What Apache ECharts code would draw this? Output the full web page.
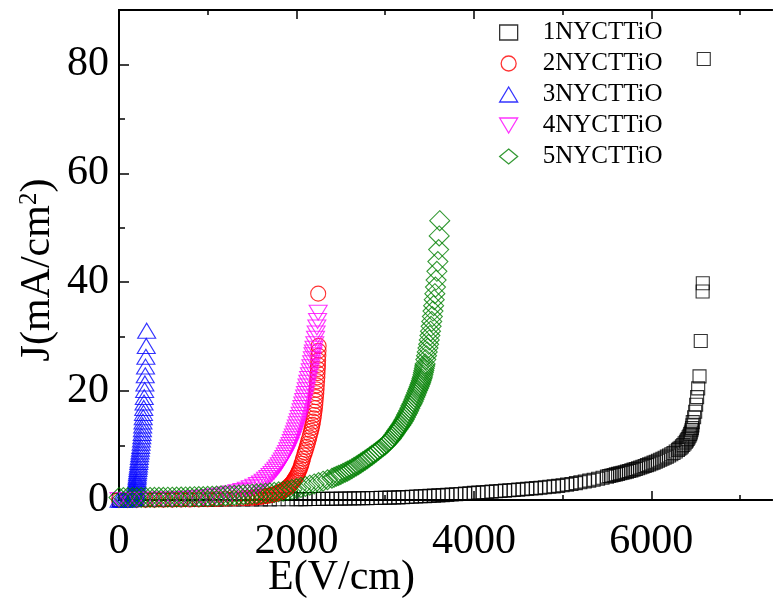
<!DOCTYPE html>
<html>
<head>
<meta charset="utf-8">
<script src="https://cdn.jsdelivr.net/npm/echarts@6/dist/echarts.min.js"></script>
<style>
    html, body { margin: 0; padding: 0; background: #fff; }
    #chart { width: 773px; height: 599px; }
</style>
</head>
<body>
<div id="chart"></div>
<script>
const seriesNames = ['1NYCTTiO', '2NYCTTiO', '3NYCTTiO', '4NYCTTiO', '5NYCTTiO'];

// 1NYCTTiO
const e1 = [0, 100, 200, 300, 400, 500, 600, 700, 800, 900, 1000, 1100, 1200, 1300, 1400, 1500, 1600, 1700, 1800, 1900,
    2000, 2050, 2100, 2150, 2200, 2250, 2300, 2350, 2400, 2450, 2500, 2550, 2600, 2650, 2700, 2750, 2800, 2850, 2900, 2950,
    3000, 3050, 3100, 3150, 3200, 3250, 3300, 3350, 3400, 3450, 3500, 3550, 3600, 3650, 3700, 3750, 3800, 3850, 3900, 3950,
    4000, 4050, 4100, 4150, 4200, 4250, 4300, 4350, 4400, 4450, 4500, 4550, 4600, 4650, 4700, 4750, 4800, 4850, 4900, 4950,
    5000, 5050, 5100, 5150, 5200, 5250, 5300, 5350, 5400, 5450, 5500, 5525, 5550, 5575, 5600, 5625, 5650, 5675, 5700, 5725,
    5750, 5775, 5800, 5825, 5850, 5875, 5900, 5925, 5950, 5975, 6000, 6025, 6050, 6075, 6100, 6125, 6150, 6175, 6200, 6225,
    6250, 6275, 6300, 6315, 6330, 6345, 6360, 6375, 6390, 6400, 6410, 6420, 6430, 6438, 6445, 6452, 6458, 6463, 6467, 6482,
    6494, 6505, 6516, 6528, 6543, 6557, 6578, 6580, 6591];
const j1 = [0, 0.01, 0.01, 0.02, 0.02, 0.03, 0.03, 0.04, 0.05, 0.05, 0.06, 0.07, 0.08, 0.09, 0.1, 0.1, 0.11, 0.12, 0.13, 0.14,
    0.15, 0.155, 0.16, 0.17, 0.18, 0.19, 0.2, 0.21, 0.22, 0.235, 0.25, 0.265, 0.28, 0.295, 0.31, 0.325, 0.34, 0.355, 0.37, 0.385,
    0.4, 0.43, 0.46, 0.49, 0.52, 0.56, 0.6, 0.64, 0.68, 0.72, 0.76, 0.8, 0.85, 0.9, 0.95, 1.0, 1.05, 1.11, 1.17, 1.23,
    1.3, 1.36, 1.42, 1.48, 1.54, 1.6, 1.66, 1.72, 1.78, 1.84, 1.9, 1.97, 2.04, 2.11, 2.18, 2.26, 2.34, 2.42, 2.5, 2.6,
    2.7, 2.82, 2.95, 3.1, 3.25, 3.4, 3.55, 3.72, 3.9, 4.1, 4.3, 4.4, 4.5, 4.6, 4.7, 4.8, 4.9, 5.0, 5.1, 5.21,
    5.33, 5.45, 5.57, 5.7, 5.83, 5.96, 6.1, 6.25, 6.4, 6.55, 6.7, 6.86, 7.03, 7.2, 7.38, 7.57, 7.77, 7.97, 8.18, 8.4,
    8.63, 8.9, 9.2, 9.4, 9.6, 9.85, 10.1, 10.4, 10.7, 10.95, 11.2, 11.5, 11.8, 12.1, 12.4, 12.8, 13.2, 13.7, 14.3, 15.2,
    16.2, 17.5, 18.9, 20.5, 22.7, 29.2, 38.3, 39.8, 81.0];

// 2NYCTTiO
const e2 = [0, 100, 200, 300, 400, 500, 600, 700, 800, 900, 1000, 1100, 1200, 1300, 1400, 1450, 1500, 1525, 1550, 1575,
    1600, 1625, 1650, 1675, 1700, 1720, 1740, 1760, 1780, 1795, 1810, 1825, 1840, 1855, 1870, 1885, 1900, 1913, 1925, 1938,
    1950, 1960, 1970, 1980, 1990, 2000, 2010, 2020, 2030, 2040, 2050, 2058, 2066, 2075, 2085, 2095, 2105, 2115, 2125, 2135,
    2145, 2155, 2165, 2173, 2180, 2187, 2193, 2198, 2203, 2208, 2212, 2216, 2220, 2224, 2227, 2230, 2233, 2236, 2238, 2241,
    2243, 2245, 2247, 2249, 2250, 2245];
const j2 = [0, 0.01, 0.02, 0.03, 0.04, 0.05, 0.06, 0.08, 0.1, 0.12, 0.15, 0.18, 0.22, 0.27, 0.33, 0.37, 0.41, 0.45, 0.5, 0.55,
    0.6, 0.66, 0.72, 0.79, 0.86, 0.93, 1.0, 1.1, 1.2, 1.3, 1.4, 1.52, 1.65, 1.8, 1.95, 2.12, 2.3, 2.5, 2.7, 2.92,
    3.15, 3.37, 3.6, 3.85, 4.1, 4.4, 4.7, 5.05, 5.4, 5.8, 6.2, 6.65, 7.1, 7.6, 8.2, 8.7, 9.2, 9.75, 10.3, 10.9,
    11.5, 12.1, 12.7, 13.25, 13.8, 14.4, 15.0, 15.6, 16.2, 16.85, 17.5, 18.2, 18.9, 19.6, 20.3, 21.05, 21.8, 22.55, 23.3, 24.05,
    24.8, 25.65, 26.5, 27.4, 28.3, 37.9];

// 3NYCTTiO
const e3 = [0, 20, 40, 60, 80, 100, 120, 140, 155, 165, 170, 175, 178, 181, 184, 186, 188, 190, 192, 194,
    196, 198, 200, 202, 204, 206, 208, 211, 214, 217, 220, 223, 226, 229, 233, 237, 241, 245, 249, 253,
    257, 261, 264, 267, 270, 273, 276, 279, 282, 285, 289, 292, 296, 299, 303, 307, 312];
const j3 = [0.05, 0.06, 0.07, 0.08, 0.1, 0.12, 0.15, 0.2, 0.3, 0.4, 0.5, 0.7, 0.9, 1.1, 1.3, 1.5, 1.8, 2.0, 2.3, 2.6,
    2.9, 3.2, 3.5, 3.8, 4.2, 4.5, 4.9, 5.3, 5.7, 6.1, 6.5, 7.0, 7.4, 7.9, 8.4, 8.9, 9.4, 9.9, 10.5, 11.1,
    11.7, 12.3, 13.0, 13.7, 14.4, 15.2, 16.0, 16.9, 17.9, 18.9, 20.2, 21.4, 22.9, 24.5, 26.3, 28.3, 31.1];

// 4NYCTTiO
const e4 = [0, 100, 200, 300, 400, 500, 600, 700, 780, 870, 950, 1020, 1090, 1150, 1210, 1270, 1330, 1385, 1435, 1480,
    1520, 1560, 1595, 1625, 1652, 1678, 1702, 1725, 1747, 1768, 1788, 1807, 1825, 1842, 1858, 1873, 1888, 1902, 1915, 1928,
    1941, 1953, 1965, 1977, 1988, 1999, 2010, 2021, 2032, 2042, 2052, 2062, 2072, 2082, 2092, 2101, 2110, 2119, 2128, 2137,
    2146, 2155, 2163, 2171, 2179, 2186, 2191, 2198, 2207, 2215, 2222, 2230, 2238, 2245];
const j4 = [0, 0.02, 0.04, 0.06, 0.08, 0.1, 0.13, 0.18, 0.25, 0.35, 0.45, 0.55, 0.68, 0.82, 1.0, 1.2, 1.42, 1.65, 1.9, 2.17,
    2.45, 2.75, 3.05, 3.37, 3.7, 4.05, 4.4, 4.78, 5.17, 5.57, 5.98, 6.4, 6.83, 7.27, 7.72, 8.18, 8.65, 9.13, 9.62, 10.12,
    10.63, 11.15, 11.68, 12.22, 12.77, 13.33, 13.9, 14.48, 15.07, 15.67, 16.28, 16.9, 17.53, 18.17, 18.82, 19.48, 20.15, 20.83, 21.52, 22.22,
    22.93, 23.65, 24.38, 25.12, 25.87, 26.6, 27.1, 27.8, 28.6, 29.6, 30.6, 31.7, 32.9, 34.4];

// 5NYCTTiO
const e5 = [0, 50, 100, 150, 200, 250, 300, 350, 400, 450, 500, 550, 600, 650, 700, 750, 800, 850, 900, 950,
    1000, 1050, 1100, 1150, 1200, 1250, 1300, 1350, 1400, 1450, 1500, 1550, 1600, 1650, 1700, 1750, 1800, 1850, 1900, 1950,
    2000, 2050, 2100, 2150, 2200, 2250, 2300, 2350, 2400, 2425, 2450, 2475, 2500, 2525, 2550, 2575, 2600, 2625, 2650, 2675,
    2700, 2725, 2750, 2775, 2800, 2825, 2850, 2875, 2900, 2925, 2950, 2975, 3000, 3018, 3035, 3052, 3070, 3085, 3100, 3115,
    3130, 3145, 3160, 3175, 3190, 3203, 3215, 3228, 3240, 3253, 3265, 3278, 3290, 3303, 3315, 3325, 3335, 3345, 3355, 3365,
    3375, 3384, 3392, 3400, 3407, 3414, 3420, 3426, 3431, 3436, 3441, 3446, 3450, 3458, 3466, 3474, 3482, 3490, 3497, 3504,
    3511, 3518, 3525, 3532, 3539, 3546, 3553, 3560, 3567, 3574, 3583, 3594, 3603, 3609, 3615];
const j5 = [0.45, 0.45, 0.45, 0.46, 0.46, 0.46, 0.47, 0.47, 0.48, 0.49, 0.5, 0.51, 0.52, 0.53, 0.55, 0.56, 0.58, 0.6, 0.62, 0.64,
    0.67, 0.7, 0.73, 0.76, 0.8, 0.84, 0.88, 0.92, 0.97, 1.02, 1.07, 1.12, 1.18, 1.25, 1.32, 1.4, 1.5, 1.62, 1.75, 1.92,
    2.1, 2.3, 2.5, 2.72, 2.95, 3.2, 3.45, 3.72, 4.0, 4.17, 4.35, 4.52, 4.7, 4.9, 5.1, 5.3, 5.5, 5.75, 6.0, 6.25,
    6.5, 6.77, 7.05, 7.32, 7.6, 7.9, 8.2, 8.5, 8.8, 9.12, 9.45, 9.77, 10.1, 10.4, 10.7, 11.0, 11.3, 11.65, 12.0, 12.35,
    12.7, 13.05, 13.4, 13.75, 14.1, 14.45, 14.8, 15.2, 15.6, 16.0, 16.4, 16.85, 17.3, 17.7, 18.1, 18.5, 18.9, 19.3, 19.7, 20.1,
    20.5, 20.85, 21.2, 21.55, 21.9, 22.25, 22.6, 23.0, 23.4, 23.8, 24.2, 24.6, 25.0, 25.8, 26.5, 27.2, 27.9, 28.6, 29.4, 30.2,
    31.0, 31.9, 32.8, 33.7, 34.7, 35.7, 36.8, 37.9, 39.1, 40.4, 42.0, 43.8, 46.0, 48.5, 51.3];

const xMajor = [0, 2000, 4000, 6000];
const xMinor = [1000, 3000, 5000, 7000];
const yMajor = [0, 20, 40, 60, 80];
const yMinor = [10, 30, 50, 70];

const serif = "'Liberation Serif', 'Times New Roman', serif";

function pairs(xs, ys) {
    return xs.map(function(x, i) { return [x, ys[i]]; });
}

function xAxisDef(pos, ticks, len, withLabels) {
    return {
        type: 'value',
        position: pos,
        min: 0,
        max: 7360,
        axisLine: { show: true, onZero: false, lineStyle: { color: '#000', width: 2 } },
        axisTick: { show: true, inside: true, length: len, customValues: ticks, lineStyle: { color: '#000', width: 1.5 } },
        axisLabel: withLabels ? {
            customValues: ticks, color: '#000', fontFamily: serif, fontSize: 42, margin: 21,
            formatter: function(v) { return String(v); }
        } : { show: false },
        splitLine: { show: false }
    };
}

function yAxisDef(ticks, len, withLabels) {
    return {
        type: 'value',
        position: 'left',
        min: 0,
        max: 90,
        axisLine: { show: true, onZero: false, lineStyle: { color: '#000', width: 2 } },
        axisTick: { show: true, inside: true, length: len, customValues: ticks, lineStyle: { color: '#000', width: 1.5 } },
        axisLabel: withLabels ? {
            customValues: ticks, color: '#000', fontFamily: serif, fontSize: 42, margin: 10
        } : { show: false },
        splitLine: { show: false }
    };
}

const xBottom = xAxisDef('bottom', xMajor, 9, true);
xBottom.name = 'E(V/cm)';
xBottom.nameLocation = 'middle';
xBottom.nameGap = 57;
xBottom.nameMoveOverlap = false;
xBottom.nameTextStyle = { color: '#000', fontFamily: serif, fontSize: 42, padding: [0, 208, 0, 0] };

const yLeft = yAxisDef(yMajor, 10, true);
yLeft.name = '{a|J(mA/cm}{s|2}{a|)}';
yLeft.nameLocation = 'middle';
yLeft.nameGap = 60;
yLeft.nameMoveOverlap = false;
yLeft.nameTextStyle = {
    padding: [0, 30, 0, 0],
    rich: {
        a: { color: '#000', fontFamily: serif, fontSize: 42 },
        s: { color: '#000', fontFamily: serif, fontSize: 25, verticalAlign: 'top' }
    }
};

const styles = [
    { symbol: 'rect', size: 13, color: '#000000' },
    { symbol: 'circle', size: 15, color: '#ff0000' },
    { symbol: 'triangle', size: [18, 15], color: '#0000ff' },
    { symbol: 'path://M0,0L18,0L9,15Z', size: [18, 15], color: '#ff00ff' },
    { symbol: 'diamond', size: 20, color: '#008000' }
];
const dataSets = [pairs(e1, j1), pairs(e2, j2), pairs(e3, j3), pairs(e4, j4), pairs(e5, j5)];

const option = {
    animation: false,
    backgroundColor: '#fff',
    grid: { left: 119, right: 1, top: 10, bottom: 99, containLabel: false, outerBoundsMode: 'none' },
    legend: {
        orient: 'vertical',
        left: 494,
        top: 15,
        itemWidth: 18,
        itemHeight: 15,
        itemGap: 6,
        itemStyle: { borderWidth: 1.3 },
        textStyle: { color: '#000', fontFamily: serif, fontSize: 25, padding: [0, 0, 0, 20] },
        data: seriesNames
    },
    xAxis: [
        xBottom,
        xAxisDef('bottom', xMinor, 5, false),
        xAxisDef('top', xMajor, 9, false),
        xAxisDef('top', xMinor, 5, false)
    ],
    yAxis: [
        yLeft,
        yAxisDef(yMinor, 6, false)
    ],
    series: seriesNames.map(function(name, i) {
        return {
            name: name,
            type: 'scatter',
            xAxisIndex: 0,
            yAxisIndex: 0,
            symbol: styles[i].symbol,
            symbolSize: styles[i].size,
            itemStyle: { color: 'rgba(0,0,0,0)', borderColor: styles[i].color, borderWidth: 1.1 },
            emphasis: { disabled: true },
            data: dataSets[i]
        };
    })
};

const chart = echarts.init(document.getElementById('chart'));
chart.setOption(option);
</script>
</body>
</html>
